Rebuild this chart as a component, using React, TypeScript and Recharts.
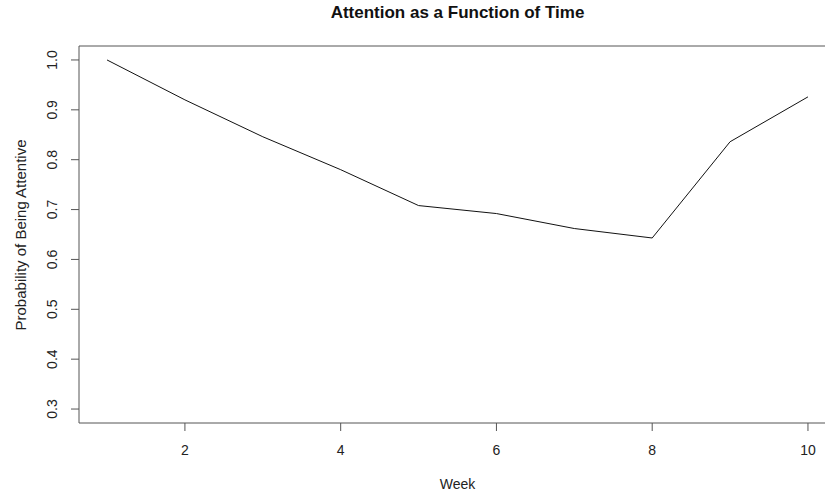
import { LineChart, Line, XAxis, YAxis, ReferenceArea } from "recharts";

const weeks = [1, 2, 3, 4, 5, 6, 7, 8, 9, 10];
const attention = [1.0, 0.92, 0.846, 0.78, 0.708, 0.692, 0.662, 0.643, 0.836, 0.926];
const xTicks = [2, 4, 6, 8, 10];
const yTicks = [0.3, 0.4, 0.5, 0.6, 0.7, 0.8, 0.9, 1.0];

const data = weeks.map((w, i) => ({ week: w, p: attention[i] }));

// R pads the range by 4% on each side
const X_DOMAIN: [number, number] = [0.64, 10.36];
const Y_DOMAIN: [number, number] = [0.272, 1.028];

const FONT = "'Liberation Sans', Arial, sans-serif";
const AXIS = "#555";

// eslint-disable-next-line @typescript-eslint/no-explicit-any
const YTick = ({ x, y, payload }: any) => (
  <text
    transform={`translate(${x - 17},${y}) rotate(-90)`}
    textAnchor="middle"
    dominantBaseline="central"
    fontSize={14}
    fontFamily={FONT}
    fill="#222"
  >
    {payload.value.toFixed(1)}
  </text>
);

// eslint-disable-next-line @typescript-eslint/no-explicit-any
const XTick = ({ x, y, payload }: any) => (
  <text
    x={x}
    y={y + 17}
    textAnchor="middle"
    dominantBaseline="central"
    fontSize={14}
    fontFamily={FONT}
    fill="#222"
  >
    {payload.value}
  </text>
);

export default function App() {
  return (
    <div
      style={{
        position: "absolute",
        left: 0,
        top: 0,
        width: 825,
        height: 495,
        overflow: "hidden",
        background: "#fff",
        fontFamily: FONT,
      }}
    >
      <div
        style={{
          position: "absolute",
          left: 0,
          width: 915,
          top: 3,
          textAlign: "center",
          fontWeight: "bold",
          fontSize: 17,
          color: "#111",
        }}
      >
        Attention as a Function of Time
      </div>
      <div
        style={{
          position: "absolute",
          left: 0,
          width: 915,
          top: 476,
          textAlign: "center",
          fontSize: 14,
          color: "#222",
        }}
      >
        Week
      </div>
      <div
        style={{
          position: "absolute",
          left: 20,
          top: 235,
          transform: "translate(-50%, -50%) rotate(-90deg)",
          whiteSpace: "nowrap",
          fontSize: 15,
          color: "#222",
        }}
      >
        Probability of Being Attentive
      </div>
      <LineChart
        width={845}
        height={495}
        data={data}
        margin={{ top: 46, right: 9, left: 0, bottom: 0 }}
      >
        <XAxis
          dataKey="week"
          type="number"
          domain={X_DOMAIN}
          ticks={xTicks}
          allowDataOverflow
          axisLine={false}
          tickSize={8}
          tickLine={{ stroke: AXIS }}
          tick={<XTick />}
          height={72}
        />
        <YAxis
          type="number"
          domain={Y_DOMAIN}
          ticks={yTicks}
          allowDataOverflow
          axisLine={false}
          tickSize={8}
          tickLine={{ stroke: AXIS }}
          tick={<YTick />}
          width={79}
        />
        <ReferenceArea
          x1={X_DOMAIN[0]}
          x2={X_DOMAIN[1]}
          y1={Y_DOMAIN[0]}
          y2={Y_DOMAIN[1]}
          stroke={AXIS}
          strokeWidth={1}
          fill="none"
          fillOpacity={0}
        />
        <Line
          dataKey="p"
          type="linear"
          stroke="#111"
          strokeWidth={1}
          dot={false}
          isAnimationActive={false}
        />
      </LineChart>
    </div>
  );
}
